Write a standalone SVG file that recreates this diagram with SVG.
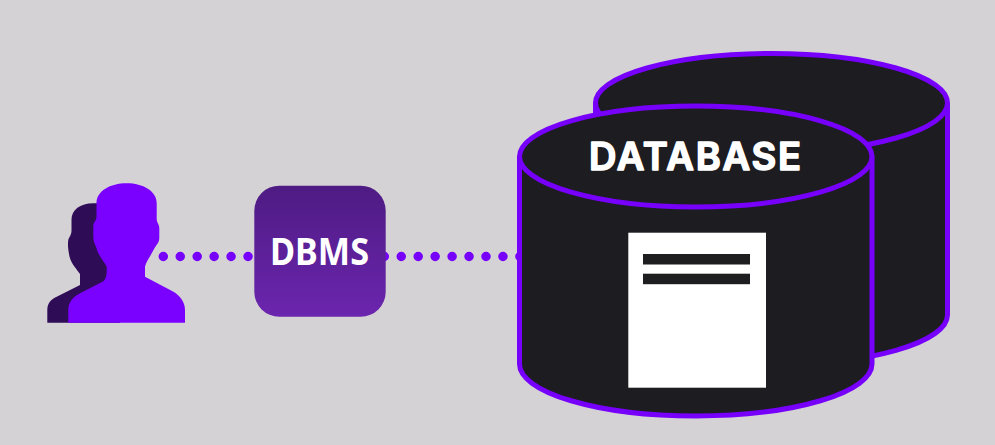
<svg xmlns="http://www.w3.org/2000/svg" width="995" height="445" viewBox="0 0 995 445">
<defs>
<linearGradient id="boxGrad" x1="0" y1="0" x2="0" y2="1"><stop offset="0" stop-color="#4e1b83"/><stop offset="1" stop-color="#6b25ae"/></linearGradient>
</defs>
<style>
.cyl{fill:#1c1c21;stroke:#7700fb;stroke-width:5;stroke-linejoin:round}
.dots{fill:none;stroke:#7700fb;stroke-width:9.5;stroke-linecap:round;stroke-dasharray:0 16.95}
.bar{fill:#1e1e20}
</style>
<rect width="995" height="445" fill="#d4d2d5"/>
<g id="connectors">
<path class="dots" d="M163.3 256.5H250"/>
<path class="dots" d="M384.3 256.5H520"/>
</g>
<g id="users">
<path fill="#2f0c56" d="M47.3 322.7V310C47.3 303 51 299.5 56.7 296.7L80 285V274C75 267 70 262 69 254C68 248 67.5 243 68.5 239C70 236 71.5 234 71.5 231V220C71.5 210 80 203.3 93.3 203.3H120V322.7Z"/>
<path fill="#7a00ff" d="M68.3 322.7V310C68.3 302 73 297 80 293.3L103 281.5C106 279.5 107 275 106.7 266.7C103 260 98 255 96.5 248C94 243 93.3 240 93.3 236V226C93.3 222 96.5 221 96.5 217V203.3C96.5 191 110 183.3 126.7 183.3C143 183.3 156.7 191 156.7 203.3V219C156.7 223 159.3 224 159.3 228V238C159.3 243 156 245 153.5 250C150 257 146 262 145 266.7V276.7L173 291.5C180 295.5 185 302 185 310V322.7Z"/>
</g>
<g id="dbms">
<rect x="254.3" y="185.7" width="131.4" height="131" rx="25" fill="url(#boxGrad)"/>
<text x="319.5" y="264.5" text-anchor="middle" font-family="'Noto Sans',sans-serif" font-weight="700" font-size="37" fill="#fff" textLength="99" lengthAdjust="spacingAndGlyphs">DBMS</text>
</g>
<g id="database-back">
<path class="cyl" d="M595.5 103V315A176 50 0 0 0 947.5 315V103"/>
<ellipse class="cyl" cx="771.5" cy="103" rx="176" ry="49.5"/>
</g>
<g id="database-front">
<path class="cyl" d="M519.5 156V364A176.25 52 0 0 0 872 364V156"/>
<ellipse class="cyl" cx="695.75" cy="156.5" rx="176.25" ry="50.5"/>
<text x="695" y="169.5" text-anchor="middle" font-family="Inter,sans-serif" font-weight="600" font-size="38" fill="#fff" stroke="#fff" stroke-width="1.6" stroke-linejoin="round" textLength="212" lengthAdjust="spacing">DATABASE</text>
<rect x="628.3" y="232.7" width="137.7" height="155" fill="#fff"/>
<rect class="bar" x="643" y="254" width="107" height="10.5"/>
<rect class="bar" x="643" y="273.7" width="107" height="10.5"/>
</g>
</svg>
